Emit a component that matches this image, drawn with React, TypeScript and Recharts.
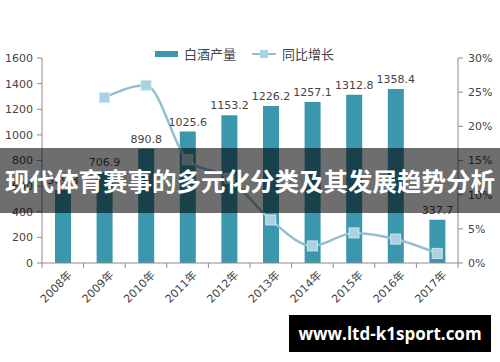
import { ComposedChart, Bar, Line, XAxis, YAxis, LabelList } from 'recharts';

const years = ['2008年', '2009年', '2010年', '2011年', '2012年', '2013年', '2014年', '2015年', '2016年', '2017年'];
const output = [569.3, 706.9, 890.8, 1025.6, 1153.2, 1226.2, 1257.1, 1312.8, 1358.4, 337.7];
const growth = [null, 24.2, 26.0, 15.1, 12.4, 6.3, 2.5, 4.4, 3.5, 1.4];
const leftTicks = [0, 200, 400, 600, 800, 1000, 1200, 1400, 1600];
const rightTicks = [0, 5, 10, 15, 20, 25, 30];

const data = years.map((year, i) => ({ year, output: output[i], growth: growth[i] }));

const BAR_COLOR = '#3b97ad';
const LINE_COLOR = '#93c0cf';
const AXIS_COLOR = '#8c8c8c';
const TEXT_COLOR = '#444';
const NUM_FONT = '"DejaVu Sans", "Noto Sans CJK SC", sans-serif';

const YearTick = (props: any) => {
    const { x, y, payload, index, visibleTicksCount } = props;
    const half = 20.8;
    return (
        <g>
            <line x1={x - half} y1={y} x2={x - half} y2={y + 5} stroke={AXIS_COLOR} />
            {index === visibleTicksCount - 1 && (
                <line x1={x + half} y1={y} x2={x + half} y2={y + 5} stroke={AXIS_COLOR} />
            )}
            <g transform={`translate(${x + 7},${y + 10})`}>
                <text
                    textAnchor="end"
                    transform="rotate(-45)"
                    dy={4}
                    fontSize={11}
                    fill={TEXT_COLOR}
                    fontFamily={NUM_FONT}
                >
                    {payload.value}
                </text>
            </g>
        </g>
    );
};

const SquareDot = (props: any) => {
    const { cx, cy } = props;
    if (cx == null || cy == null) return null;
    return <rect x={cx - 5} y={cy - 5} width={10} height={10} fill="#a9d2e1" stroke="#cde6ef" strokeWidth={1} />;
};

const ChartLegend = () => (
    <div
        style={{
            position: 'absolute',
            top: 44,
            left: 155,
            display: 'flex',
            alignItems: 'center',
            fontFamily: '"Noto Sans CJK SC", sans-serif',
            fontSize: 13,
            color: TEXT_COLOR,
        }}
    >
        <div style={{ width: 23, height: 6, backgroundColor: BAR_COLOR, marginRight: 6 }} />
        <span>白酒产量</span>
        <svg width={24} height={12} style={{ marginLeft: 16, marginRight: 6 }}>
            <line x1={0} y1={6} x2={24} y2={6} stroke={LINE_COLOR} strokeWidth={2} />
            <rect x={8} y={2} width={8} height={8} fill="#a9d2e1" />
        </svg>
        <span>同比增长</span>
    </div>
);

const App = () => {
    return (
        <div style={{ position: 'absolute', top: 0, left: 0, width: 500, height: 362, background: '#fff', overflow: 'hidden' }}>
            <ComposedChart width={500} height={362} data={data} margin={{ top: 58, right: 0, bottom: 0, left: 0 }}>
                <XAxis
                    dataKey="year"
                    height={99}
                    stroke={AXIS_COLOR}
                    tickLine={false}
                    tickSize={0}
                    tickMargin={0}
                    interval={0}
                    tick={<YearTick />}
                />
                <YAxis
                    yAxisId="left"
                    width={42}
                    domain={[0, 1600]}
                    ticks={leftTicks}
                    stroke={AXIS_COLOR}
                    tickSize={5}
                    tickMargin={4}
                    tick={{ fontSize: 11, fill: TEXT_COLOR, fontFamily: NUM_FONT }}
                />
                <YAxis
                    yAxisId="right"
                    orientation="right"
                    width={42}
                    domain={[0, 30]}
                    ticks={rightTicks}
                    stroke={AXIS_COLOR}
                    tickSize={5}
                    tickMargin={5}
                    tickFormatter={(v) => `${v}%`}
                    tick={{ fontSize: 11, fill: TEXT_COLOR, fontFamily: NUM_FONT }}
                />
                <Bar yAxisId="left" dataKey="output" name="白酒产量" fill={BAR_COLOR} barSize={16} isAnimationActive={false}>
                    <LabelList dataKey="output" position="top" offset={6} fontSize={11} fill={TEXT_COLOR} fontFamily={NUM_FONT} formatter={(v: any) => Number(v).toFixed(1)} />
                </Bar>
                <Line
                    yAxisId="right"
                    dataKey="growth"
                    name="同比增长"
                    type="monotone"
                    stroke={LINE_COLOR}
                    strokeWidth={2.5}
                    dot={<SquareDot />}
                    activeDot={false}
                    isAnimationActive={false}
                />
            </ComposedChart>
            <ChartLegend />
            <div
                style={{
                    position: 'absolute',
                    left: 0,
                    top: 148,
                    width: 500,
                    height: 65,
                    background: 'rgba(0,0,0,0.57)',
                    color: '#fff',
                    fontFamily: '"Noto Sans CJK SC", sans-serif',
                    fontWeight: 700,
                    fontSize: 24.5,
                    lineHeight: '65px',
                    textAlign: 'center',
                    whiteSpace: 'nowrap',
                }}
            >
                现代体育赛事的多元化分类及其发展趋势分析
            </div>
            <div
                style={{
                    position: 'absolute',
                    left: 289,
                    top: 315,
                    width: 202,
                    height: 37,
                    background: '#000',
                    color: '#fff',
                    fontFamily: '"Open Sans", sans-serif',
                    fontWeight: 700,
                    fontSize: 17,
                    lineHeight: '37px',
                    textAlign: 'center',
                }}
            >
                www.ltd-k1sport.com
            </div>
        </div>
    );
};

export default App;
